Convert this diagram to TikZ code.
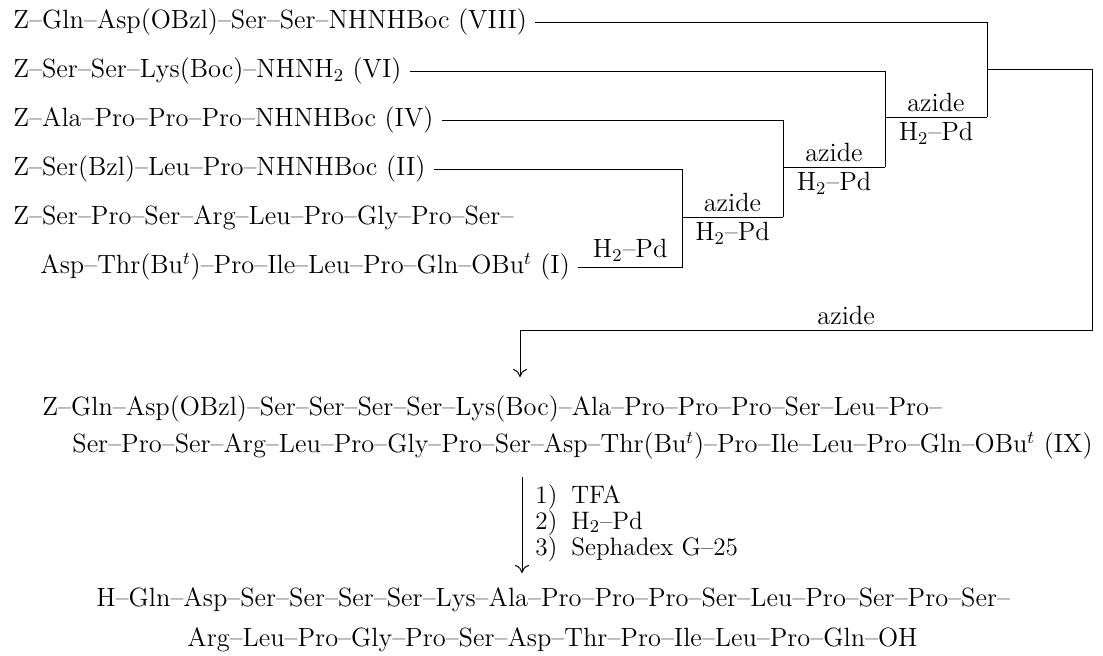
\documentclass[tikz,border=0pt]{standalone}
\usepackage{tikz}
\usetikzlibrary{arrows.meta}

\begin{document}
\begin{tikzpicture}[
  x=0.5pt, y=-0.5pt,
  pep/.style={anchor=west, inner sep=4pt, font=\fontsize{13.2}{16}\selectfont},
  step1/.style={pep, inner ysep=0pt, text height=8.5pt, text depth=2.5pt, font=\fontsize{12.6}{14}\selectfont},
  lbl/.style={inner sep=2.5pt, font=\fontsize{13.2}{16}\selectfont},
  link/.style={line width=0.5pt},
  arr/.style={link, -{Computer Modern Rightarrow[length=4pt, width=7pt]}}
]
\useasboundingbox (0,0) rectangle (1103,655);

\node[pep] (p8) at (5,22) {Z--Gln--Asp(OBzl)--Ser--Ser--NHNHBoc (VIII)};
\node[pep] (p6) at (5,71) {Z--Ser--Ser--Lys(Boc)--NHNH$_2$ (VI)};
\node[pep] (p4) at (5,120) {Z--Ala--Pro--Pro--Pro--NHNHBoc (IV)};
\node[pep] (p2) at (5,169) {Z--Ser(Bzl)--Leu--Pro--NHNHBoc (II)};
\node[pep] (p1a) at (5,218) {Z--Ser--Pro--Ser--Arg--Leu--Pro--Gly--Pro--Ser--};
\node[pep] (p1b) at (32,267) {Asp--Thr(Bu$^t$)--Pro--Ile--Leu--Pro--Gln--OBu$^t$ (I)};

\node[pep] (p9a) at (34,409) {Z--Gln--Asp(OBzl)--Ser--Ser--Ser--Ser--Lys(Boc)--Ala--Pro--Pro--Pro--Ser--Leu--Pro--};
\node[pep] (p9b) at (64,446) {Ser--Pro--Ser--Arg--Leu--Pro--Gly--Pro--Ser--Asp--Thr(Bu$^t$)--Pro--Ile--Leu--Pro--Gln--OBu$^t$ (IX)};

\node[step1] (rx1) at (527,497) {1)\hspace{7pt}TFA};
\node[step1] (rx2) at (527,523) {2)\hspace{7pt}H$_2$--Pd};
\node[step1] (rx3) at (527,549) {3)\hspace{7pt}Sephadex G--25};

\node[pep] (pfa) at (88,600) {H--Gln--Asp--Ser--Ser--Ser--Ser--Lys--Ala--Pro--Pro--Pro--Ser--Leu--Pro--Ser--Pro--Ser--};
\node[pep] (pfb) at (179,640) {Arg--Leu--Pro--Gly--Pro--Ser--Asp--Thr--Pro--Ile--Leu--Pro--Gln--OH};

\coordinate (j1) at (682,267);
\coordinate (m1) at (682,217);
\coordinate (j2) at (783,217);
\coordinate (m2) at (783,167);
\coordinate (j3) at (885,167);
\coordinate (m3) at (885,117);
\coordinate (j4) at (987,117);
\coordinate (m4) at (987,69);
\coordinate (j5) at (1092,330);
\coordinate (k5) at (520,330);
\coordinate (t5) at (520,377);
\coordinate (r0) at (522,477);
\coordinate (r1) at (522,573);

\draw[link] (p2.east) -| (j1) -- node[lbl, above] {H$_2$--Pd} (p1b.east);
\draw[link] (p4.east) -| (j2);
\draw[link] (m1) -- node[lbl, above] {azide} node[lbl, below] {H$_2$--Pd} (j2);
\draw[link] (p6.east) -| (j3);
\draw[link] (m2) -- node[lbl, above] {azide} node[lbl, below] {H$_2$--Pd} (j3);
\draw[link] (p8.east) -| (j4);
\draw[link] (m3) -- node[lbl, above] {azide} node[lbl, below] {H$_2$--Pd} (j4);
\draw[arr] (m4) -| (j5) -- node[lbl, above, pos=0.43] {azide} (k5) -- (t5);
\draw[arr] (r0) -- (r1);
\end{tikzpicture}
\end{document}
